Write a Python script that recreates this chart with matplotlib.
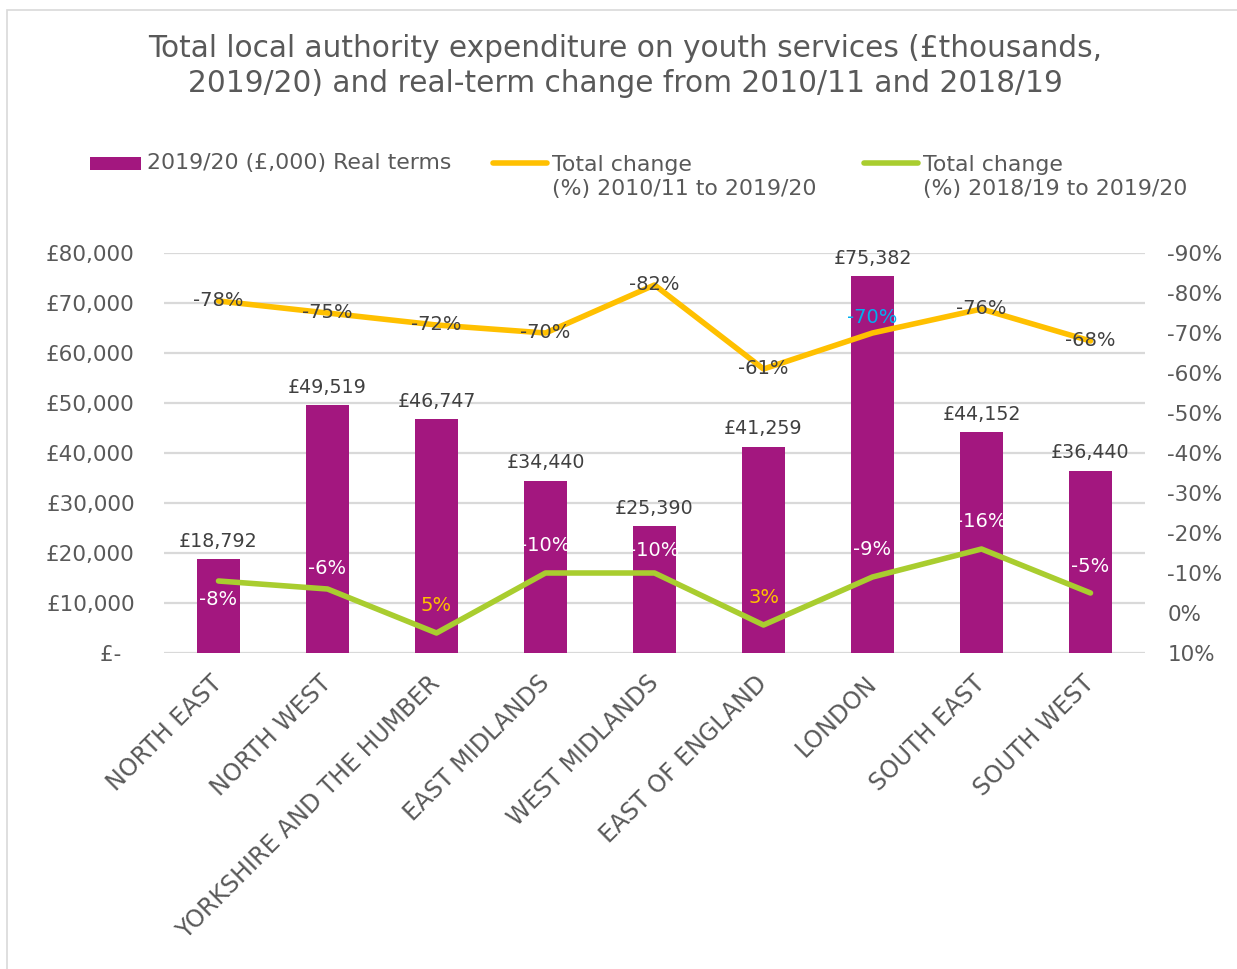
import matplotlib
matplotlib.use('Agg')
import matplotlib.pyplot as plt
import numpy as np
from matplotlib.patches import Rectangle
from matplotlib.lines import Line2D

# Regions and values
regions = ["NORTH EAST", "NORTH WEST", "YORKSHIRE AND THE HUMBER", "EAST MIDLANDS",
           "WEST MIDLANDS", "EAST OF ENGLAND", "LONDON", "SOUTH EAST", "SOUTH WEST"]
spend_2019 = [18792, 49519, 46747, 34440, 25390, 41259, 75382, 44152, 36440]
change_2010 = [-0.78, -0.75, -0.72, -0.70, -0.82, -0.61, -0.70, -0.76, -0.68]
change_2018 = [-0.08, -0.06, 0.05, -0.10, -0.10, 0.03, -0.09, -0.16, -0.05]

left_ticks = [0, 10000, 20000, 30000, 40000, 50000, 60000, 70000, 80000]
right_ticks = [-0.9, -0.8, -0.7, -0.6, -0.5, -0.4, -0.3, -0.2, -0.1, 0.0, 0.1]

PURPLE = '#A3177F'
YELLOW = '#FFC000'
GREEN = '#A9CD2F'
GRID = '#D9D9D9'
AXIS_TXT = '#595959'
LABEL_TXT = '#404040'

plt.rcParams['font.family'] = ['DejaVu Sans']

fig = plt.figure(figsize=(12.37, 9.69), dpi=100)
W, H = 1237, 969

# light frame around the chart area
fig.patches.append(Rectangle((7 / W, -0.01), 1.0, 1 - 10 / H + 0.01,
                             transform=fig.transFigure, fill=False,
                             edgecolor=GRID, linewidth=1.2))

ax = fig.add_axes([164 / W, 1 - 653 / H, (1145 - 164) / W, (653 - 253) / H])
x = np.arange(len(regions))

ax.bar(x, spend_2019, width=0.4, color=PURPLE, zorder=2)
ax.set_xlim(-0.5, len(regions) - 0.5)
ax.set_ylim(0, 80000)
ax.set_yticks(left_ticks)
ax.set_yticklabels(['£-  ' if v == 0 else f'£{v:,}' for v in left_ticks])
ax.grid(axis='y', color=GRID, linewidth=1.6, zorder=0)
ax.set_axisbelow(True)
for s in ax.spines.values():
    s.set_visible(False)
ax.tick_params(axis='y', length=0, pad=21, labelsize=15.5, labelcolor=AXIS_TXT)
ax.tick_params(axis='x', length=0, pad=19, labelsize=17, labelcolor=AXIS_TXT)
ax.set_xticks(x)
ax.set_xticklabels(regions, rotation=45, ha='right', va='center', rotation_mode='anchor')

# bar value labels
for xi, v in zip(x, spend_2019):
    ax.annotate(f'£{v:,}', (xi, v), xytext=(0, 6), textcoords='offset points',
                ha='center', va='bottom', fontsize=13.7, color=LABEL_TXT)

# secondary (inverted) percentage axis
ax2 = ax.twinx()
ax2.set_ylim(0.1, -0.9)
ax2.set_yticks(right_ticks)
ax2.set_yticklabels([f'{int(round(v * 100))}%' for v in right_ticks])
for s in ax2.spines.values():
    s.set_visible(False)
ax2.tick_params(axis='y', length=0, pad=16, labelsize=15.5, labelcolor=AXIS_TXT)

ax2.plot(x, change_2010, color=YELLOW, linewidth=4, solid_capstyle='round',
         solid_joinstyle='round', zorder=3)
ax2.plot(x, change_2018, color=GREEN, linewidth=4, solid_capstyle='round',
         solid_joinstyle='round', zorder=3)

# labels on the 2010/11 line (centred on the point, London nudged up)
yel_dy = [0, 0, 0, 0, 0, 0, 11, 0, 0]
yel_col = [LABEL_TXT] * 6 + ['#00B0F0'] + [LABEL_TXT] * 2
for xi, v, dy, c in zip(x, change_2010, yel_dy, yel_col):
    ax2.annotate(f'{int(round(v * 100))}%', (xi, v), xytext=(0, dy),
                 textcoords='offset points', ha='center', va='center',
                 fontsize=14, color=c, zorder=4)

# labels on the 2018/19 line (above the point, first one below)
grn_dy = [-13, 15, 20, 20, 16, 20, 20, 20, 19]
grn_col = ['white', 'white', YELLOW, 'white', 'white', YELLOW, 'white', 'white', 'white']
for xi, v, dy, c in zip(x, change_2018, grn_dy, grn_col):
    ax2.annotate(f'{int(round(v * 100))}%', (xi, v), xytext=(0, dy),
                 textcoords='offset points', ha='center', va='center',
                 fontsize=14, color=c, zorder=4)

# title
fig.text(625 / W, 1 - 66 / H,
         'Total local authority expenditure on youth services (£thousands,\n'
         '2019/20) and real-term change from 2010/11 and 2018/19',
         ha='center', va='center', fontsize=21.3, color=AXIS_TXT, linespacing=1.3)

# legend drawn by hand to match the layout
fig.patches.append(Rectangle((90 / W, 1 - 170 / H), 51 / W, 13 / H,
                             transform=fig.transFigure, facecolor=PURPLE,
                             edgecolor='none'))
fig.text(147 / W, 1 - 163 / H, '2019/20 (£,000) Real terms', ha='left', va='center',
         fontsize=15.8, color=AXIS_TXT)
for x0, x1, col, txt in [(493, 547, YELLOW, 'Total change\n(%) 2010/11 to 2019/20'),
                         (864, 918, GREEN, 'Total change\n(%) 2018/19 to 2019/20')]:
    fig.lines.append(Line2D([x0 / W, x1 / W], [1 - 163 / H, 1 - 163 / H],
                            transform=fig.transFigure, color=col, linewidth=4,
                            solid_capstyle='round'))
    fig.text((x1 + 5) / W, 1 - 177 / H, txt, ha='left', va='center',
             fontsize=15.8, color=AXIS_TXT, linespacing=1.25)

fig.savefig('out.png', dpi=100, facecolor='white')
